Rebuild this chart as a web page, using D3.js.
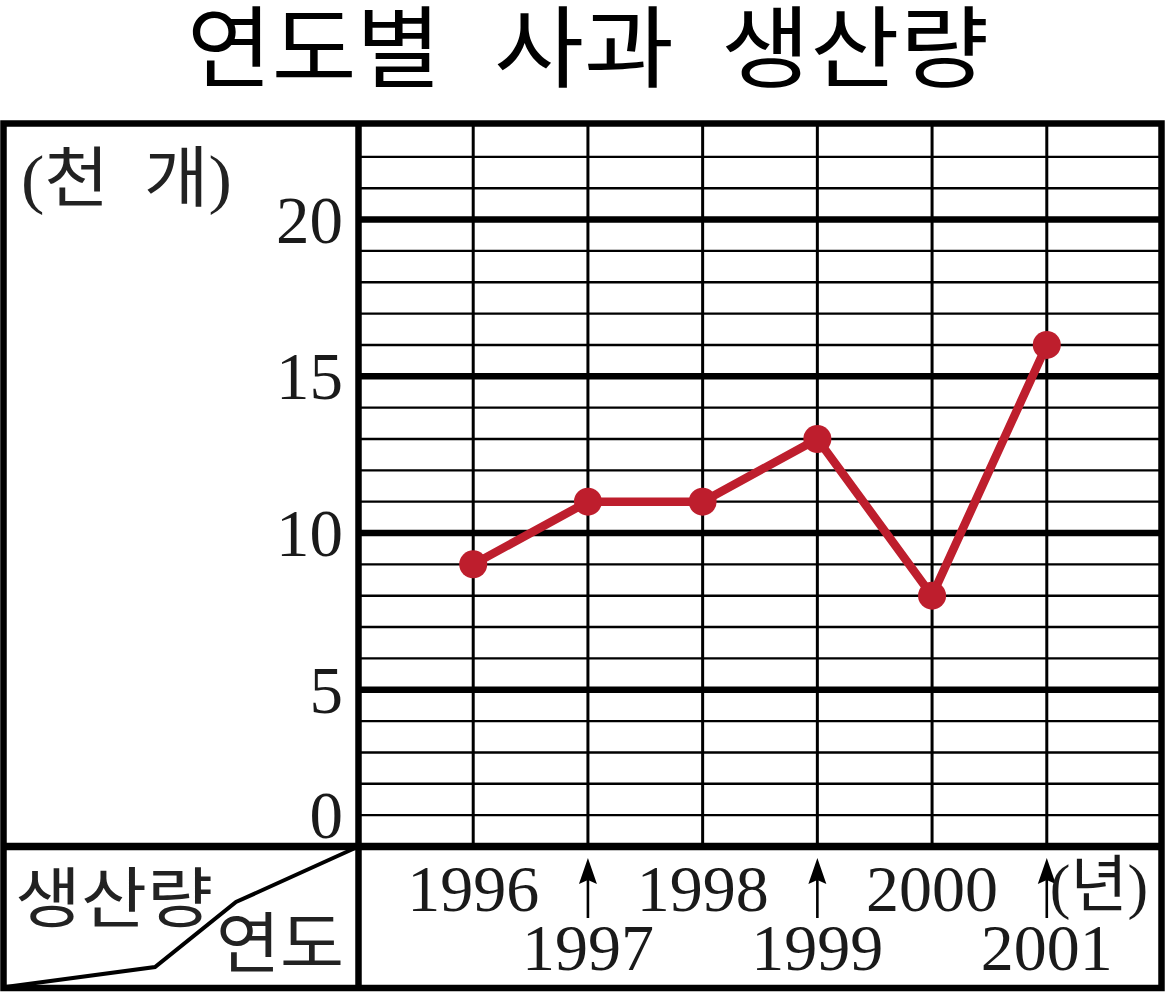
<!DOCTYPE html>
<html>
<head>
<meta charset="utf-8">
<script src="https://cdn.jsdelivr.net/npm/d3@7"></script>
<style>
  html, body { margin: 0; padding: 0; background: #fff; }
  svg { display: block; }
</style>
</head>
<body>
<svg id="chart" width="1166" height="993"></svg>
<script>
// ---- data ----
const years = [1996, 1997, 1998, 1999, 2000, 2001];
const production = [9, 11, 11, 13, 8, 16];   // 천 개
const yTicks = [0, 5, 10, 15, 20];
const titleWords = ["연도별", "사과", "생산량"];
const unitText = "(천 개)";
const xUnitText = "(년)";
const cornerTop = "생산량";
const cornerBottom = "연도";

// ---- layout ----
const frame = { left: 3.5, right: 1161.5, top: 123.5, bottom: 988 };
const splitX = 358.5;
const red = "#BE1E2D";
const serif = "'Liberation Serif', 'Times New Roman', serif";
const hangulSerif = "'Liberation Serif', 'Noto Sans CJK KR', serif";
const sans = "'Noto Sans CJK KR', sans-serif";
// title word boxes (start, advance width)
const titleSlots = [[187, 254], [494, 180], [721, 268]];

const svg = d3.select("#chart");

const x = d3.scaleLinear().domain([1995, 2002]).range([splitX, frame.right]);
const y = d3.scaleLinear().domain([0, 23]).range([846.5, 125.5]);
const splitY = y(0);

// title
const title = svg.append("text")
  .attr("y", 80)
  .attr("font-family", sans)
  .attr("font-size", 89)
  .attr("fill", "#000");
title.selectAll("tspan")
  .data(titleWords)
  .join("tspan")
  .attr("x", (d, i) => titleSlots[i][0])
  .attr("textLength", (d, i) => titleSlots[i][1])
  .attr("lengthAdjust", "spacingAndGlyphs")
  .text(d => d);

// grid: horizontal lines
svg.append("g").selectAll("line")
  .data(d3.range(1, 23))
  .join("line")
  .attr("x1", splitX).attr("x2", frame.right)
  .attr("y1", d => y(d)).attr("y2", d => y(d))
  .attr("stroke", "#000")
  .attr("stroke-width", d => d % 5 === 0 ? 6.5 : 2.4);

// vertical grid lines
svg.append("g").selectAll("line")
  .data(years)
  .join("line")
  .attr("x1", d => x(d)).attr("x2", d => x(d))
  .attr("y1", frame.top).attr("y2", splitY)
  .attr("stroke", "#000")
  .attr("stroke-width", 3);

// frame
svg.append("rect")
  .attr("x", frame.left).attr("y", frame.top)
  .attr("width", frame.right - frame.left).attr("height", frame.bottom - frame.top)
  .attr("fill", "none").attr("stroke", "#000").attr("stroke-width", 6.5);
svg.append("line")
  .attr("x1", splitX).attr("x2", splitX)
  .attr("y1", frame.top).attr("y2", frame.bottom)
  .attr("stroke", "#000").attr("stroke-width", 6.5);
svg.append("line")
  .attr("x1", frame.left).attr("x2", frame.right)
  .attr("y1", splitY).attr("y2", splitY)
  .attr("stroke", "#000").attr("stroke-width", 7.5);

// corner diagonal
svg.append("path")
  .attr("d", d3.line()([[splitX, splitY], [236, 902], [155, 967], [frame.left + 2, frame.bottom - 1]]))
  .attr("fill", "none").attr("stroke", "#000").attr("stroke-width", 4);

svg.append("text")
  .attr("x", 15).attr("y", 922)
  .attr("font-family", sans)
  .attr("font-size", 66)
  .attr("textLength", 198)
  .attr("lengthAdjust", "spacingAndGlyphs")
  .attr("fill", "#222")
  .text(cornerTop);
svg.append("text")
  .attr("x", 216).attr("y", 967)
  .attr("font-family", sans)
  .attr("font-size", 66)
  .attr("textLength", 128)
  .attr("lengthAdjust", "spacingAndGlyphs")
  .attr("fill", "#222")
  .text(cornerBottom);

// unit label
svg.append("text")
  .attr("x", 21).attr("y", 201)
  .attr("font-family", hangulSerif)
  .attr("font-size", 66)
  .attr("textLength", 211)
  .attr("lengthAdjust", "spacingAndGlyphs")
  .attr("fill", "#222")
  .attr("xml:space", "preserve")
  .text(unitText.replace(" ", "  "));

// y tick labels
svg.append("g").selectAll("text")
  .data(yTicks)
  .join("text")
  .attr("x", 343)
  .attr("y", d => Math.min(y(d), y(1)) + 23)
  .attr("text-anchor", "end")
  .attr("font-family", serif)
  .attr("font-size", 67)
  .attr("fill", "#1a1a1a")
  .text(d => d);

// x labels
const xl = svg.append("g");
xl.selectAll("text")
  .data(years)
  .join("text")
  .attr("x", d => x(d))
  .attr("y", (d, i) => i % 2 === 0 ? 911 : 969.5)
  .attr("text-anchor", "middle")
  .attr("font-family", serif)
  .attr("font-size", 66)
  .attr("fill", "#1a1a1a")
  .text(d => d);

// arrows for lower-row labels
const arrowYears = years.filter((d, i) => i % 2 === 1);
xl.selectAll("line.arrow")
  .data(arrowYears)
  .join("line")
  .attr("class", "arrow")
  .attr("x1", d => x(d)).attr("x2", d => x(d))
  .attr("y1", 918).attr("y2", 878)
  .attr("stroke", "#000").attr("stroke-width", 2.6);
xl.selectAll("path.head")
  .data(arrowYears)
  .join("path")
  .attr("class", "head")
  .attr("d", d => `M${x(d)},858 L${x(d) - 9},884 L${x(d)},880 L${x(d) + 9},884 Z`)
  .attr("fill", "#000");

svg.append("text")
  .attr("x", x(2001) + 3).attr("y", 907)
  .attr("font-family", hangulSerif)
  .attr("font-size", 62)
  .attr("fill", "#1a1a1a")
  .text(xUnitText);

// data line
const pts = years.map((d, i) => [x(d), y(production[i])]);
svg.append("path")
  .attr("d", d3.line()(pts))
  .attr("fill", "none")
  .attr("stroke", red)
  .attr("stroke-width", 8.5)
  .attr("stroke-linejoin", "round");
svg.append("g").selectAll("circle")
  .data(pts)
  .join("circle")
  .attr("cx", d => d[0]).attr("cy", d => d[1])
  .attr("r", 14)
  .attr("fill", red);
</script>
</body>
</html>
